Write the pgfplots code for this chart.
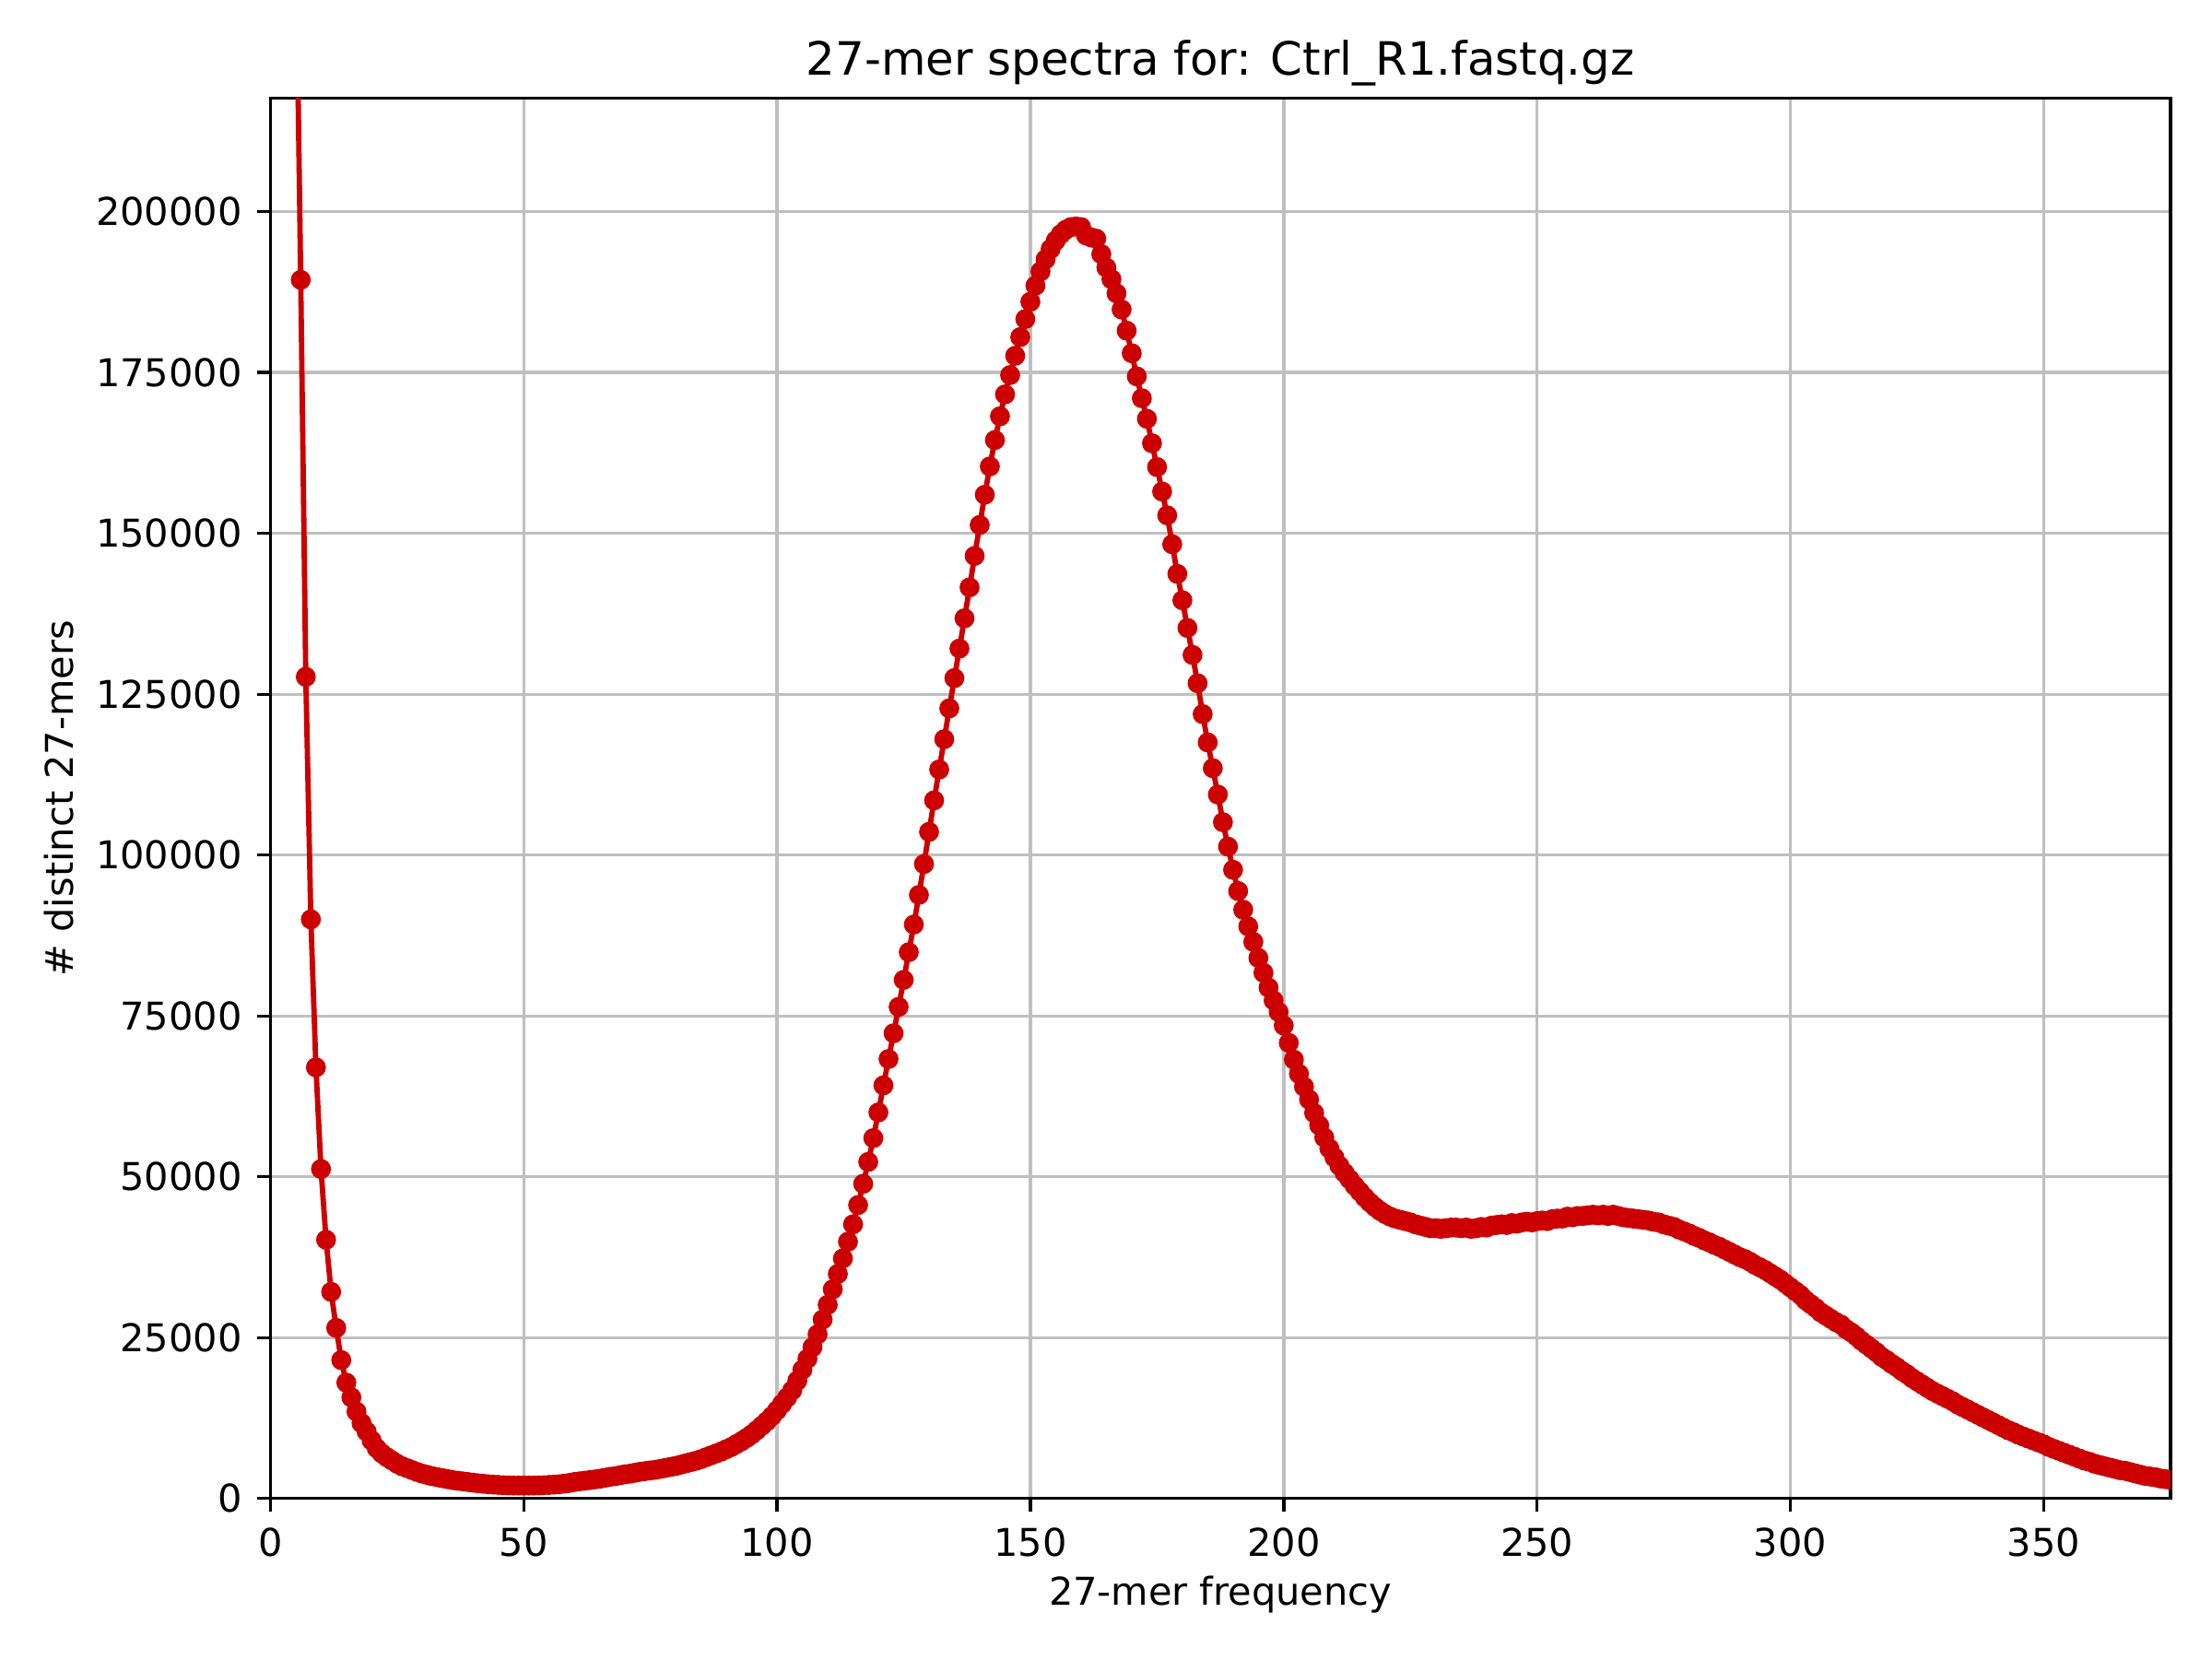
\documentclass[border=0pt]{standalone}
\usepackage{fontspec}
\setmainfont{DejaVu Sans}
\usepackage{pgfplots}
\usepackage{pgfplotstable}
\pgfplotsset{compat=1.18}
\definecolor{specred}{HTML}{CC0000}
\pgfplotstableread{
x y
5 245000
6 189400
7 127700
8 90000
9 67000
10 51200
11 40200
12 32100
13 26500
14 21500
15 18000
16 15700
17 13500
18 11700
19 10400
20 9000
21 7800
22 7000
23 6400
24 5900
25 5400
26 5000
27 4700
28 4400
29 4100
30 3850
31 3650
32 3450
33 3300
34 3150
35 3000
36 2850
37 2750
38 2650
39 2550
40 2450
41 2350
42 2280
43 2200
44 2150
45 2100
46 2050
47 2020
48 2000
49 2000
50 1990
51 2000
52 2000
53 2020
54 2050
55 2100
56 2150
57 2200
58 2300
59 2400
60 2550
61 2650
62 2750
63 2850
64 2950
65 3050
66 3200
67 3350
68 3450
69 3600
70 3750
71 3850
72 4000
73 4150
74 4250
75 4350
76 4450
77 4600
78 4750
79 4900
80 5050
81 5250
82 5450
83 5650
84 5850
85 6100
86 6400
87 6700
88 7000
89 7300
90 7650
91 8000
92 8450
93 8900
94 9400
95 9950
96 10600
97 11300
98 12000
99 12800
100 13700
101 14700
102 15700
103 16800
104 18300
105 20000
106 21700
107 23500
108 25500
109 27800
110 30100
111 32500
112 34900
113 37300
114 39900
115 42600
116 45600
117 48900
118 52300
119 56000
120 60000
121 64200
122 68300
123 72300
124 76400
125 80600
126 84900
127 89200
128 93800
129 98600
130 103600
131 108500
132 113300
133 118000
134 122800
135 127500
136 132100
137 136800
138 141600
139 146500
140 151300
141 156000
142 160400
143 164500
144 168200
145 171600
146 174600
147 177600
148 180500
149 183300
150 186000
151 188500
152 190700
153 192600
154 194200
155 195500
156 196500
157 197200
158 197600
159 197700
160 197600
161 196300
162 196000
163 195800
164 193400
165 191300
166 189500
167 187300
168 184800
169 181500
170 178000
171 174400
172 171000
173 167800
174 164000
175 160300
176 156500
177 152800
178 148300
179 143700
180 139600
181 135300
182 131100
183 126700
184 121900
185 117500
186 113500
187 109400
188 105100
189 101300
190 97700
191 94400
192 91500
193 88900
194 86500
195 84000
196 81700
197 79400
198 77400
199 75600
200 73500
201 70800
202 68200
203 66000
204 64000
205 62000
206 59900
207 58000
208 56100
209 54400
210 53000
211 51700
212 50600
213 49600
214 48600
215 47700
216 46800
217 46000
218 45300
219 44700
220 44200
221 43800
222 43500
223 43300
224 43100
225 42900
226 42600
227 42400
228 42200
229 42000
230 42000
231 41900
232 42000
233 42100
234 42100
235 42000
236 42100
237 41900
238 42000
239 42200
240 42100
241 42400
242 42500
243 42600
244 42500
245 42800
246 42700
247 42900
248 43000
249 42900
250 43100
251 43200
252 43100
253 43400
254 43500
255 43500
256 43800
257 43700
258 43900
259 43900
260 44000
261 44100
262 44000
263 44100
264 43900
265 44100
266 43900
267 43700
268 43600
269 43500
270 43400
271 43300
272 43200
273 43000
274 42900
275 42600
276 42400
277 42200
278 41800
279 41500
280 41200
281 40800
282 40500
283 40100
284 39800
285 39400
286 39100
287 38700
288 38300
289 37900
290 37500
291 37200
292 36800
293 36300
294 35900
295 35500
296 35000
297 34500
298 34000
299 33400
300 32800
301 32200
302 31600
303 30800
304 30200
305 29600
306 28900
307 28400
308 27900
309 27400
310 27000
311 26300
312 25800
313 25200
314 24500
315 23900
316 23300
317 22700
318 22000
319 21500
320 20900
321 20400
322 19800
323 19300
324 18700
325 18200
326 17700
327 17200
328 16700
329 16300
330 15900
331 15500
332 15100
333 14600
334 14200
335 13800
336 13400
337 13000
338 12600
339 12200
340 11800
341 11400
342 11000
343 10600
344 10300
345 9900
346 9600
347 9300
348 9000
349 8700
350 8400
351 8000
352 7700
353 7400
354 7100
355 6800
356 6500
357 6200
358 5900
359 5700
360 5400
361 5200
362 5000
363 4800
364 4600
365 4400
366 4300
367 4100
368 3900
369 3700
370 3500
371 3400
372 3300
373 3100
374 3000
375 2900
}\specdata
\begin{document}
\begin{tikzpicture}[font=\fontsize{10}{12}\selectfont]
\path[use as bounding box] (-0.9777in,-0.581in) rectangle ++(8in,6in);
\begin{axis}[
  at={(0,0)}, anchor=south west,
  scale only axis,
  width=6.872in, height=5.063in,
  xmin=0, xmax=375, ymin=0, ymax=217600,
  xtick={0,50,...,350},
  ytick={0,25000,...,200000},
  scaled y ticks=false,
  scaled x ticks=false,
  /pgf/number format/.cd, fixed, precision=0, set thousands separator={}, assume math mode=true,
  /pgfplots/.cd,
  clip marker paths=true,
  xtick pos=bottom, ytick pos=left,
  tick align=outside,
  major tick length=3.5pt,
  tick style={black, line width=0.8pt},
  axis line style={black, line width=0.8pt},
  grid=major,
  major grid style={black!25, line width=0.8pt},
  every tick label/.append style={font=\fontsize{10}{12}\selectfont, inner sep=0pt},
  xticklabel style={anchor=north, yshift=-4pt},
  yticklabel style={anchor=east, xshift=-3.7pt},
  title={27-mer spectra for: Ctrl\_R1.fastq.gz},
  every axis title/.style={at={(0.5,1)}, anchor=base, yshift=6.2pt, inner sep=0pt, font=\fontsize{12}{14.4}\selectfont},
  xlabel={27-mer frequency},
  xlabel style={at={(axis description cs:0.5,-0.07654)}, anchor=base, inner sep=0pt},
  ylabel={\# distinct 27-mers},
  ylabel style={at={(axis description cs:-0.1112,0.5)}, anchor=center, inner sep=0pt},
]
\addplot[color=specred, line width=1.4pt, mark=*, mark size=1.9pt, mark options={solid, fill=specred, draw=specred}] table[x=x, y=y] {\specdata};
\end{axis}
\end{tikzpicture}
\end{document}
